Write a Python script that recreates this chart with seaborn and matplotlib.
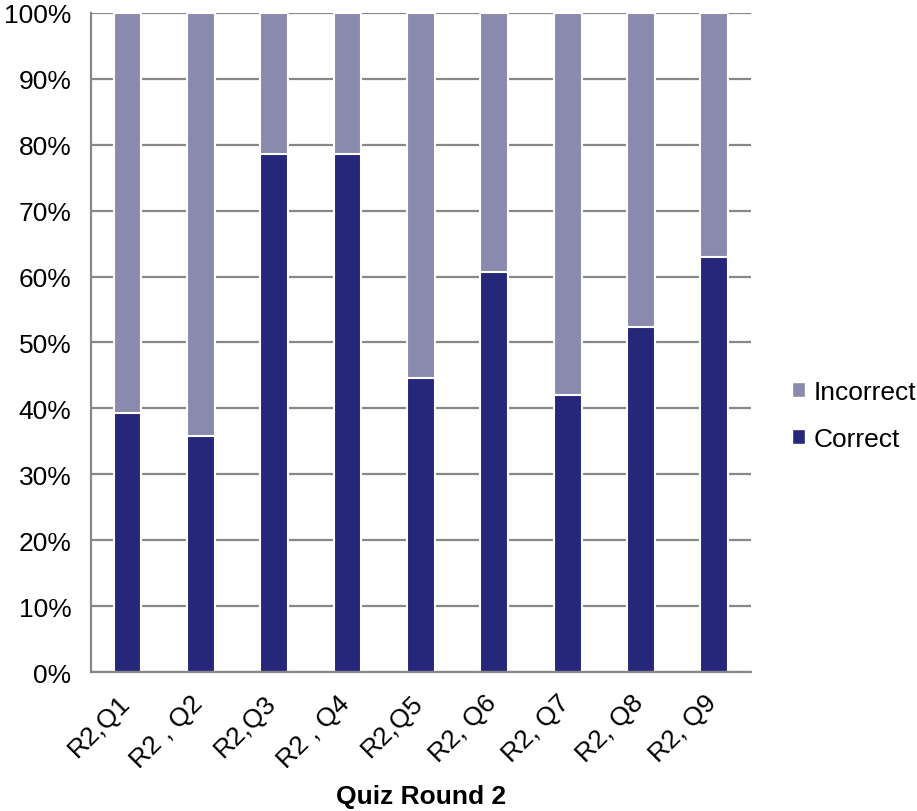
import numpy as np
import pandas as pd
import matplotlib
matplotlib.use("Agg")
import matplotlib.pyplot as plt
import matplotlib.transforms as mtransforms
from matplotlib.ticker import PercentFormatter, FixedLocator
from matplotlib.patches import Patch
import seaborn as sns

questions = ["R2,Q1", "R2 , Q2", "R2,Q3", "R2 , Q4", "R2,Q5",
             "R2, Q6", "R2, Q7", "R2, Q8", "R2, Q9"]
correct = [39.3, 35.8, 78.6, 78.6, 44.6, 60.7, 42.1, 52.4, 63.0]
incorrect = [60.7, 64.2, 21.4, 21.4, 55.4, 39.3, 57.9, 47.6, 37.0]

col_correct = "#26277a"
col_incorrect = "#8a8aae"
grid_col = "#878787"

df = pd.DataFrame({"question": questions,
                   "correct": correct,
                   "total": np.array(correct) + np.array(incorrect)})

sns.set_style("white")
plt.rcParams["font.family"] = ["Liberation Sans", "DejaVu Sans"]
plt.rcParams["text.color"] = "black"
plt.rcParams["xtick.color"] = "black"
plt.rcParams["ytick.color"] = "black"
plt.rcParams["axes.labelcolor"] = "black"

fig = plt.figure(figsize=(9.17, 8.12), dpi=100)
ax = fig.add_axes([0.099, 0.171, 0.72, 0.812])

# incorrect drawn as full stack, correct drawn on top
sns.barplot(data=df, x="question", y="total", color=col_incorrect,
            width=0.38, edgecolor="white", linewidth=1.5, ax=ax,
            saturation=1)
sns.barplot(data=df, x="question", y="correct", color=col_correct,
            width=0.38, edgecolor="white", linewidth=1.5, ax=ax,
            saturation=1)

ax.set_ylim(0, 100)
ax.set_xlim(-0.5, len(questions) - 0.5)
ax.yaxis.set_major_locator(FixedLocator(np.arange(0, 101, 10)))
ax.yaxis.set_major_formatter(PercentFormatter(decimals=0))
ax.set_axisbelow(True)
ax.grid(axis="y", color=grid_col, linewidth=1.6)

for side in ["top", "right"]:
    ax.spines[side].set_visible(False)
for side in ["left", "bottom"]:
    ax.spines[side].set_color(grid_col)
    ax.spines[side].set_linewidth(1.6)

# excel style ticks between categories
ax.set_xticks(np.arange(-0.5, len(questions), 1.0), minor=True)
ax.tick_params(axis="x", which="minor", length=8, width=1.6,
               color=grid_col, direction="out")
ax.tick_params(axis="x", which="major", length=0, pad=13)
ax.tick_params(axis="y", length=8, width=1.6, color=grid_col,
               direction="out", labelsize=19, pad=6)
ax.set_xticks(range(len(questions)))
ax.set_xticklabels(questions, rotation=45, ha="right",
                   rotation_mode="anchor", fontsize=19)
offset = mtransforms.ScaledTranslation(-0.1, 0, fig.dpi_scale_trans)
for lab in ax.get_xticklabels():
    lab.set_transform(lab.get_transform() + offset)

ax.set_ylabel("")
ax.set_xlabel("Quiz Round 2", fontsize=19, fontweight="bold", labelpad=9)

handles = [Patch(facecolor=col_incorrect, label="Incorrect"),
           Patch(facecolor=col_correct, label="Correct")]
fig.legend(handles=handles, loc="center left",
           bbox_to_anchor=(0.864, 0.487), frameon=False, fontsize=19,
           handlelength=0.5, handleheight=0.5, handletextpad=0.3,
           labelspacing=0.85, borderpad=0, borderaxespad=0)

fig.savefig("out.png", dpi=100)
